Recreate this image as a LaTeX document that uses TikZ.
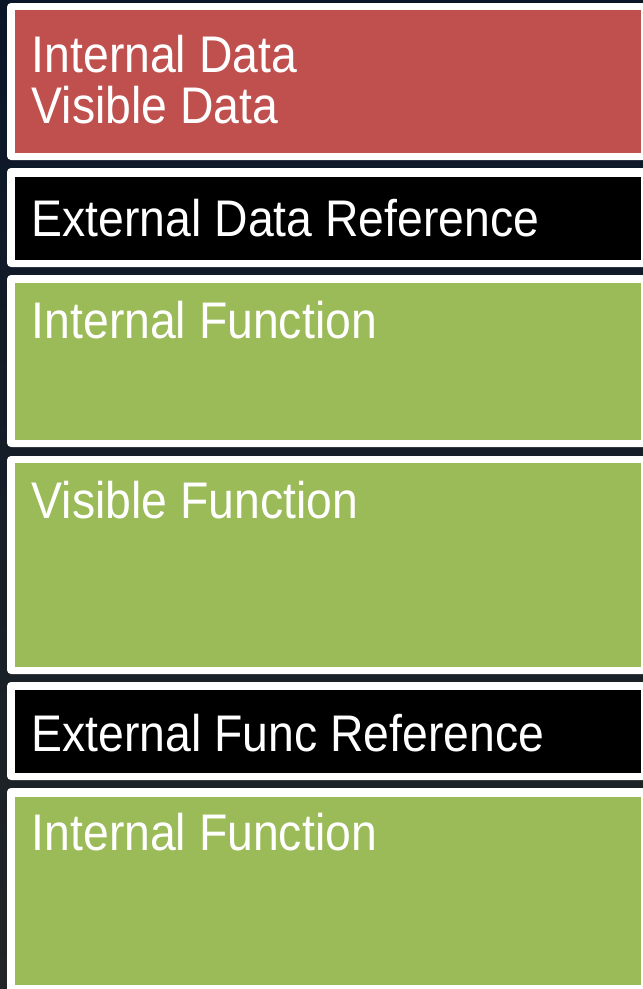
\documentclass[tikz,border=0pt]{standalone}
\usepackage{fontspec}
\usepackage{tikz}
\newfontfamily\slidefont{Liberation Sans}[FakeStretch=0.9]

\definecolor{slidebg top}{RGB}{10,22,40}
\definecolor{slidebg bot}{RGB}{34,37,39}
\definecolor{datared}{RGB}{192,80,77}
\definecolor{funcgreen}{RGB}{155,187,89}

\tikzset{
  frame/.style={fill=white, rounded corners=4pt},
  datafill/.style={fill=datared},
  reffill/.style={fill=black},
  funcfill/.style={fill=funcgreen},
  lbl/.style={anchor=base west, inner sep=0pt, text=white,
    font=\slidefont\fontsize{51.5}{60}\selectfont}
}

\begin{document}
\begin{tikzpicture}[x=1pt,y=-1pt]
  \useasboundingbox (0,0) rectangle (643,989);
  \shade[top color=slidebg top, bottom color=slidebg bot] (0,0) rectangle (643,989);

  % white frames
  \fill[frame] (7,3) rectangle (652,160);
  \fill[frame] (7,168) rectangle (652,267);
  \fill[frame] (7,275) rectangle (652,447);
  \fill[frame] (7,456) rectangle (652,674);
  \fill[frame] (7,682) rectangle (652,780);
  \fill[frame] (7,788) rectangle (652,996);

  % coloured panels
  \fill[datafill] (15,10) rectangle (641,153);
  \fill[reffill] (15,177) rectangle (641,260);
  \fill[funcfill] (15,283) rectangle (641,440);
  \fill[funcfill] (15,463) rectangle (641,667);
  \fill[reffill] (15,690) rectangle (641,773);
  \fill[funcfill] (15,797) rectangle (641,985);

  \node[lbl] (intdata) at (31.5,72.7) {Internal Data};
  \node[lbl] (visdata) at (31.5,123.3) {Visible Data};
  \node[lbl] (extdata) at (31.5,236.7) {External Data Reference};
  \node[lbl] (intfunc) at (31.5,338.3) {Internal Function};
  \node[lbl] (visfunc) at (31.5,518.3) {Visible Function};
  \node[lbl] (extfunc) at (31.5,751.7) {External Func Reference};
  \node[lbl] (intfunctwo) at (31.5,850) {Internal Function};
\end{tikzpicture}
\end{document}
